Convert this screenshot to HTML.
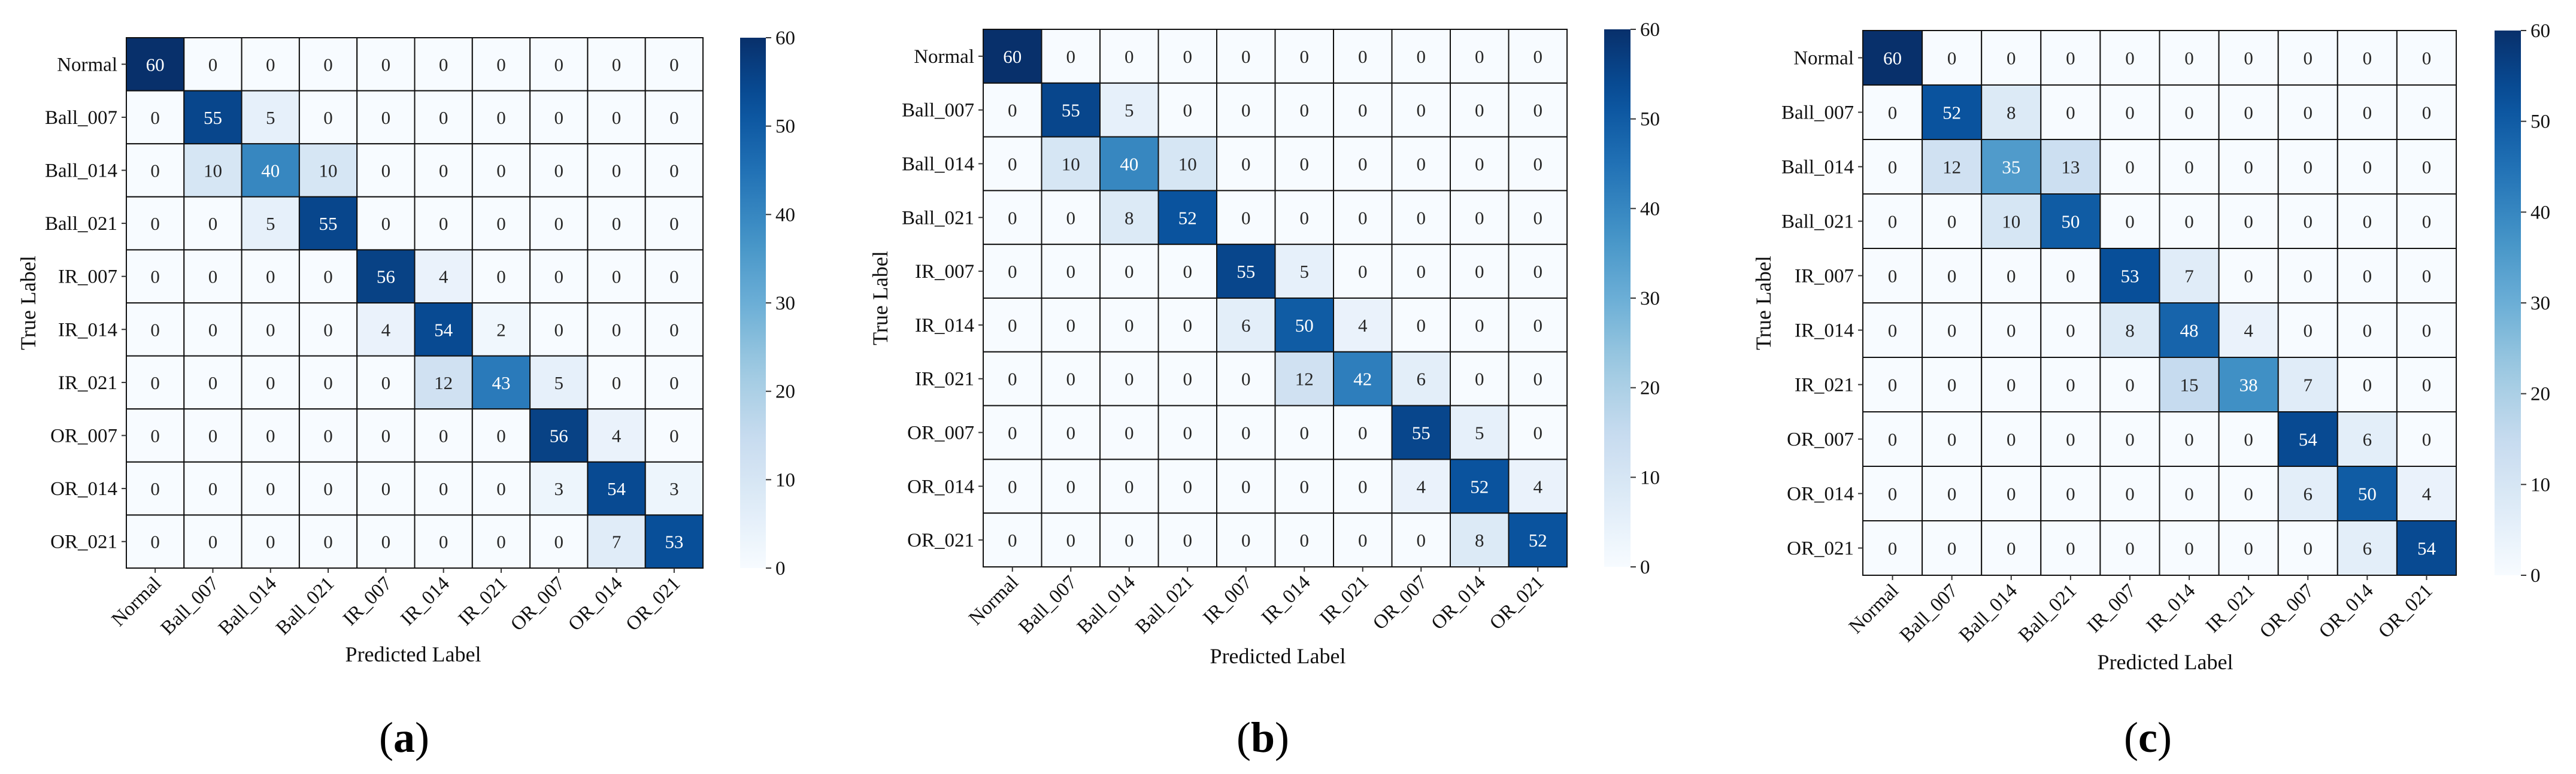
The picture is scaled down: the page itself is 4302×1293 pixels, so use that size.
<!DOCTYPE html>
<html><head><meta charset="utf-8">
<style>
html,body{margin:0;padding:0;background:#fff;}
svg{display:block;font-family:"Liberation Serif",serif;}
</style></head>
<body>
<svg id="fig" width="4302" height="1293" viewBox="0 0 4302 1293"></svg>
<script>
const classLabels = ["Normal","Ball_007","Ball_014","Ball_021","IR_007","IR_014","IR_021","OR_007","OR_014","OR_021"];
const colorbarTicks = [0,10,20,30,40,50,60];
const panelLetters = ["a","b","c"];
const matrixA = [
[60,0,0,0,0,0,0,0,0,0],
[0,55,5,0,0,0,0,0,0,0],
[0,10,40,10,0,0,0,0,0,0],
[0,0,5,55,0,0,0,0,0,0],
[0,0,0,0,56,4,0,0,0,0],
[0,0,0,0,4,54,2,0,0,0],
[0,0,0,0,0,12,43,5,0,0],
[0,0,0,0,0,0,0,56,4,0],
[0,0,0,0,0,0,0,3,54,3],
[0,0,0,0,0,0,0,0,7,53]];
const matrixB = [
[60,0,0,0,0,0,0,0,0,0],
[0,55,5,0,0,0,0,0,0,0],
[0,10,40,10,0,0,0,0,0,0],
[0,0,8,52,0,0,0,0,0,0],
[0,0,0,0,55,5,0,0,0,0],
[0,0,0,0,6,50,4,0,0,0],
[0,0,0,0,0,12,42,6,0,0],
[0,0,0,0,0,0,0,55,5,0],
[0,0,0,0,0,0,0,4,52,4],
[0,0,0,0,0,0,0,0,8,52]];
const matrixC = [
[60,0,0,0,0,0,0,0,0,0],
[0,52,8,0,0,0,0,0,0,0],
[0,12,35,13,0,0,0,0,0,0],
[0,0,10,50,0,0,0,0,0,0],
[0,0,0,0,53,7,0,0,0,0],
[0,0,0,0,8,48,4,0,0,0],
[0,0,0,0,0,15,38,7,0,0],
[0,0,0,0,0,0,0,54,6,0],
[0,0,0,0,0,0,0,6,50,4],
[0,0,0,0,0,0,0,0,6,54]];
const matrices = [matrixA, matrixB, matrixC];
const vmin = 0, vmax = 60;

// layout (not data)
const layouts = [
 {x0:211,x1:1174,y0:63,y1:949,cb0:1236,cb1:1279,tx:47,px:690,py:1093,lx:675},
 {x0:1642,x1:2617,y0:49,y1:947,cb0:2679,cb1:2723,tx:1470,px:2134,py:1096,lx:2109},
 {x0:3111,x1:4102,y0:51,y1:961,cb0:4166,cb1:4210,tx:2945,px:3616,py:1106,lx:3587}
];
const stops = ["#f7fbff","#deebf7","#c6dbef","#9ecae1","#6baed6","#4292c6","#2171b5","#08519c","#08306b"];
function hex(h){return [1,3,5].map(i=>parseInt(h.substr(i,2),16));}
function blues(t){
  t=Math.max(0,Math.min(1,t));
  const p=t*(stops.length-1), i=Math.min(stops.length-2,Math.floor(p)), f=p-i;
  const a=hex(stops[i]), b=hex(stops[i+1]);
  return "rgb("+a.map((v,k)=>Math.round(v+(b[k]-v)*f)).join(",")+")";
}
const NS="http://www.w3.org/2000/svg";
const svg=document.getElementById('fig');
function mk(tag,attrs,parent){const e=document.createElementNS(NS,tag);for(const k in attrs)e.setAttribute(k,attrs[k]);(parent||svg).appendChild(e);return e;}

const defs=mk('defs',{});
matrices.forEach((M,pi)=>{
  const L=layouts[pi];
  const n=classLabels.length;
  const cw=(L.x1-L.x0)/n, ch=(L.y1-L.y0)/n;
  const xs=j=>L.x0+j*cw, ys=i=>L.y0+i*ch;
  const g=mk('g',{});
  
  
  M.forEach((row,i)=>row.forEach((v,j)=>{
    const r=mk('rect',{x:xs(j),y:ys(i),width:cw,height:ch,fill:blues((v-vmin)/(vmax-vmin)),stroke:'#111','stroke-width':2},g);
    
    
    const t=mk('text',{x:xs(j)+cw/2,y:ys(i)+ch/2+11,'text-anchor':'middle','font-size':31,fill:(v>30?'#fff':'#262626')},g);
    t.textContent=v;
    
    
  }));
  classLabels.forEach((lab,i)=>{
    const cy=ys(i)+ch/2;
    mk('line',{x1:L.x0-8,x2:L.x0,y1:cy,y2:cy,stroke:'#333','stroke-width':2},g);
    const t=mk('text',{x:L.x0-15,y:cy+11,'text-anchor':'end','font-size':33,fill:'#111'},g);
    t.textContent=lab;
    
    
  });
  classLabels.forEach((lab,j)=>{
    const cx=xs(j)+cw/2;
    mk('line',{x1:cx,x2:cx,y1:L.y1,y2:L.y1+8,stroke:'#333','stroke-width':2},g);
    const ty=L.y1+22;
    const t=mk('text',{x:cx+6,y:ty+8,'text-anchor':'end','font-size':33,fill:'#111',transform:'rotate(-45 '+(cx+6)+' '+ty+')'},g);
    t.textContent=lab;
    
    
  });
  const yt=mk('text',{x:L.tx,y:(L.y0+L.y1)/2,'text-anchor':'middle','font-size':36,fill:'#111',transform:'rotate(-90 '+L.tx+' '+((L.y0+L.y1)/2)+')',dy:12},g);
  yt.textContent='True Label';
  
  
  const xt=mk('text',{x:L.px,y:L.py+12,'text-anchor':'middle','font-size':36,fill:'#111'},g);
  xt.textContent='Predicted Label';
  
  
  const gid='cbgrad'+pi;
  const lg=mk('linearGradient',{id:gid,x1:0,y1:1,x2:0,y2:0},defs);
  for(let k=0;k<=20;k++){mk('stop',{offset:(k/20),'stop-color':blues(k/20)},lg);}
  const cb=mk('rect',{x:L.cb0,y:L.y0,width:L.cb1-L.cb0,height:L.y1-L.y0,fill:'url(#'+gid+')'},g);
  
  
  colorbarTicks.forEach(v=>{
    const y=L.y1-(v-vmin)/(vmax-vmin)*(L.y1-L.y0);
    mk('line',{x1:L.cb1,x2:L.cb1+9,y1:y,y2:y,stroke:'#333','stroke-width':2},g);
    const t=mk('text',{x:L.cb1+16,y:y+11,'font-size':33,fill:'#111'},g);
    t.textContent=v;
    
    
  });
  const pl=mk('text',{x:L.lx,y:1256,'text-anchor':'middle','font-size':72,fill:'#000','font-family':'"Liberation Serif",serif'},g);
  pl.innerHTML='(<tspan font-weight="bold">'+panelLetters[pi]+'</tspan>)';
  
  
});
</script>
</body></html>
